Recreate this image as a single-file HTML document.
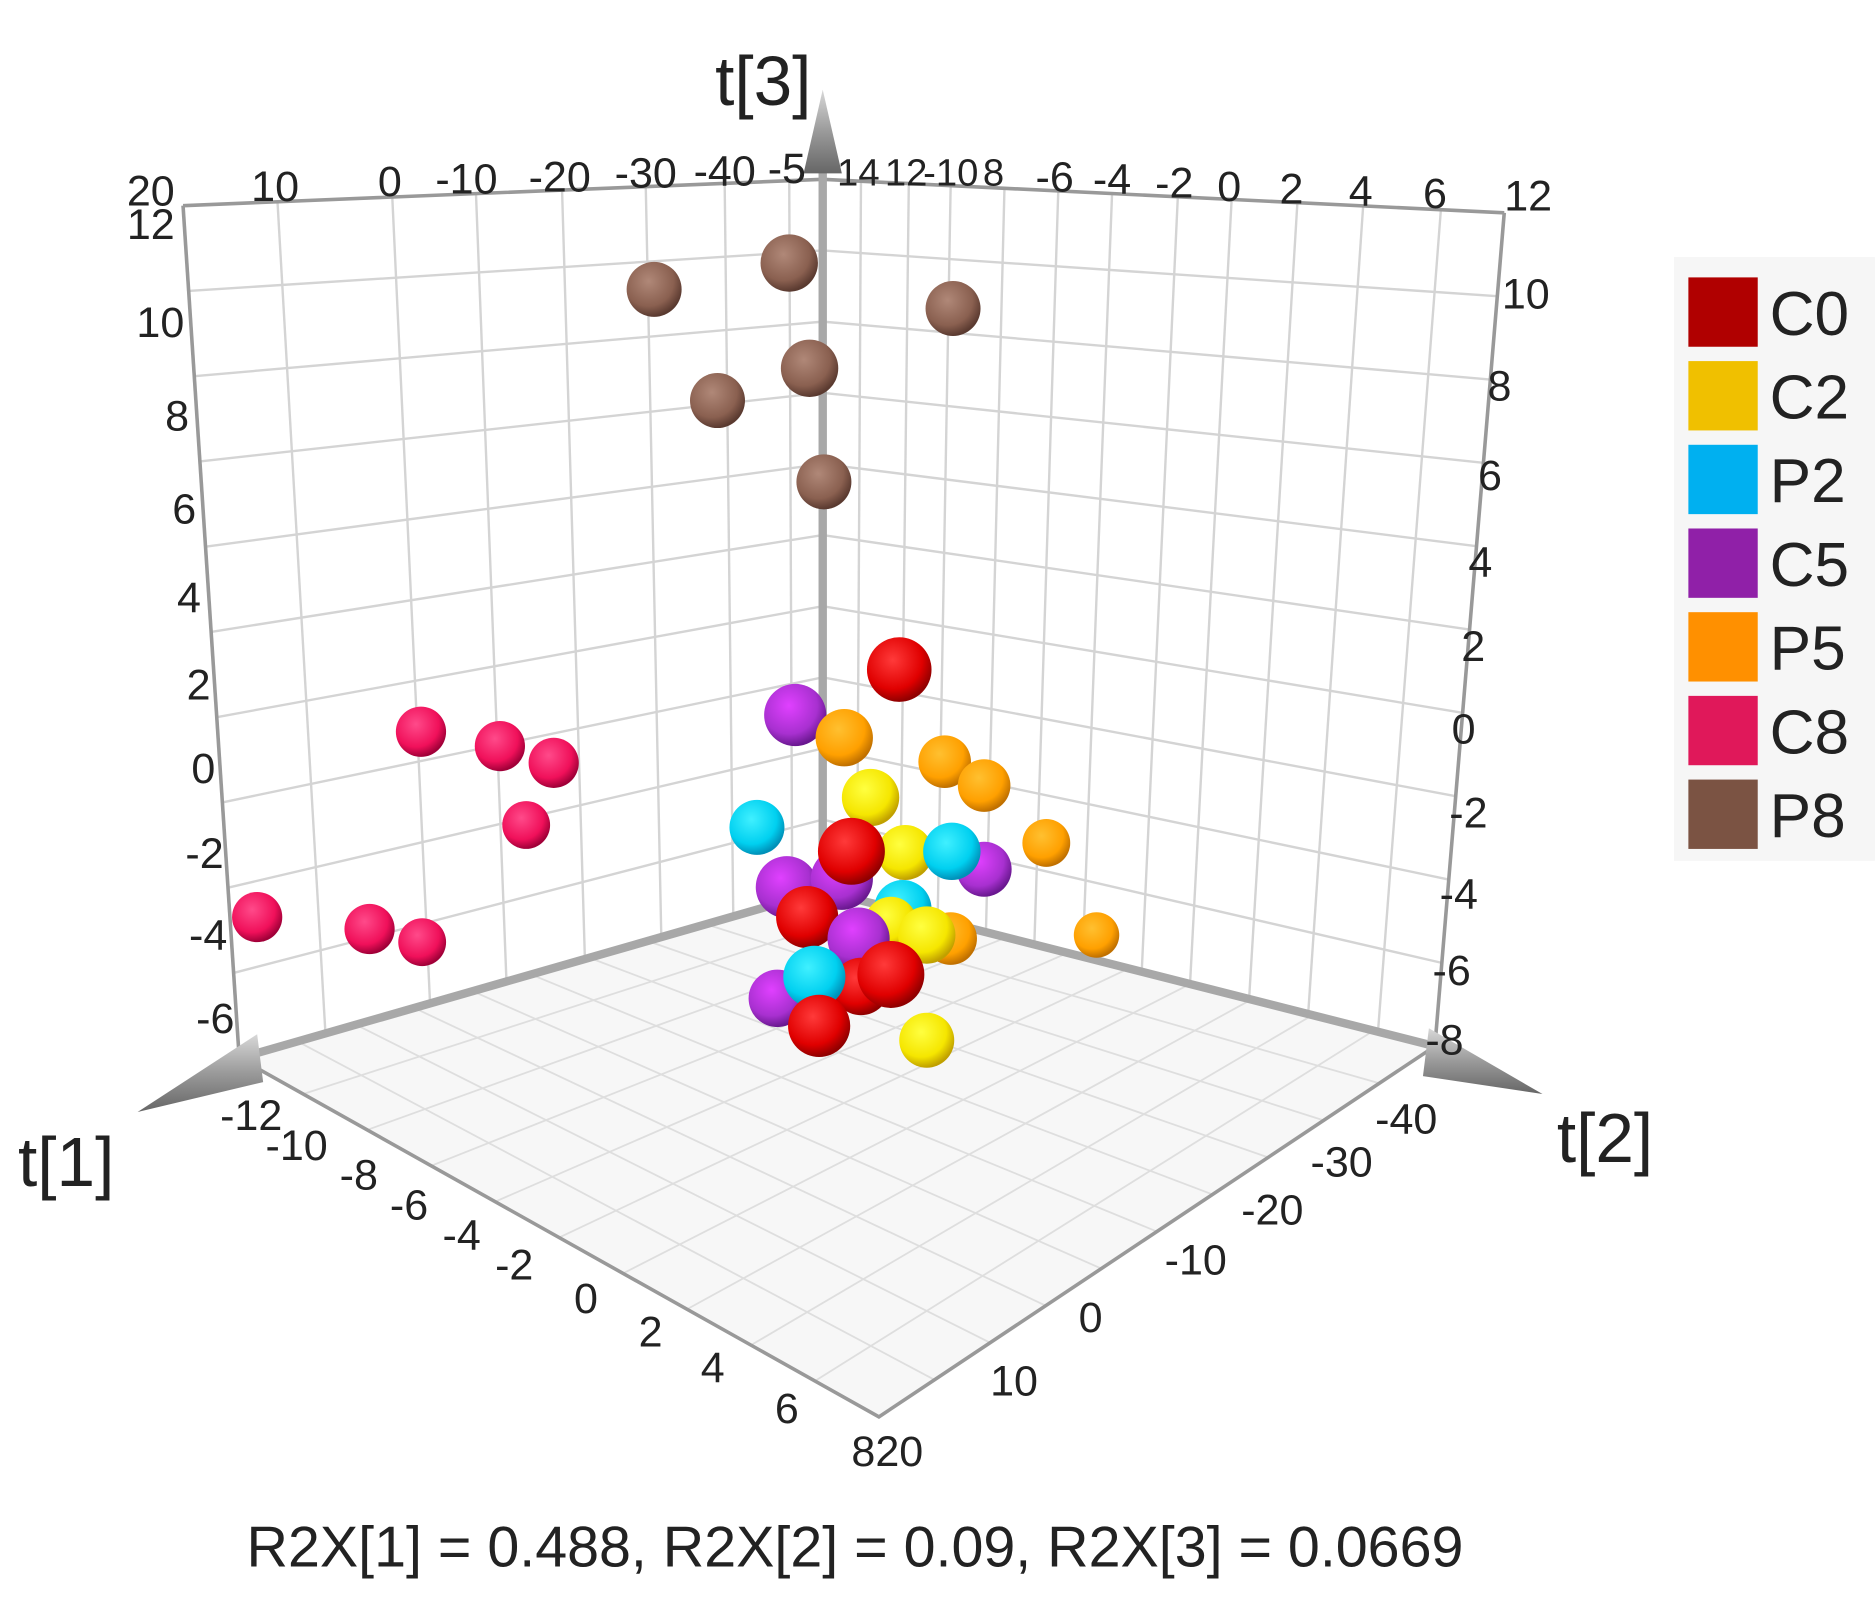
<!DOCTYPE html>
<html><head><meta charset="utf-8"><style>
html,body{margin:0;padding:0;background:#fff;}
svg{display:block;}
text{font-family:"Liberation Sans",sans-serif;fill:#222;}
</style></head><body>
<svg width="1875" height="1601" viewBox="0 0 1568 1339" xmlns="http://www.w3.org/2000/svg">
<defs>
<radialGradient id="gR" cx="0.4" cy="0.35" r="0.65"><stop offset="0" stop-color="#ff3a3a"/><stop offset="0.7" stop-color="#e00000"/><stop offset="1" stop-color="#900000"/></radialGradient>
<radialGradient id="gY" cx="0.4" cy="0.35" r="0.65"><stop offset="0" stop-color="#ffff40"/><stop offset="0.7" stop-color="#f5e600"/><stop offset="1" stop-color="#c0a000"/></radialGradient>
<radialGradient id="gC" cx="0.4" cy="0.35" r="0.65"><stop offset="0" stop-color="#40f0ff"/><stop offset="0.7" stop-color="#00d0f0"/><stop offset="1" stop-color="#0090b8"/></radialGradient>
<radialGradient id="gP" cx="0.4" cy="0.35" r="0.65"><stop offset="0" stop-color="#e040ff"/><stop offset="0.7" stop-color="#a830d0"/><stop offset="1" stop-color="#6a1890"/></radialGradient>
<radialGradient id="gO" cx="0.4" cy="0.35" r="0.65"><stop offset="0" stop-color="#ffc030"/><stop offset="0.7" stop-color="#ffa000"/><stop offset="1" stop-color="#c07000"/></radialGradient>
<radialGradient id="gK" cx="0.4" cy="0.35" r="0.65"><stop offset="0" stop-color="#ff4a8a"/><stop offset="0.7" stop-color="#f0105a"/><stop offset="1" stop-color="#a00038"/></radialGradient>
<radialGradient id="gB" cx="0.4" cy="0.35" r="0.65"><stop offset="0" stop-color="#b08878"/><stop offset="0.7" stop-color="#8a6050"/><stop offset="1" stop-color="#5a3a30"/></radialGradient>
<linearGradient id="cone" x1="0" y1="0" x2="0" y2="1"><stop offset="0" stop-color="#d8d8d8"/><stop offset="0.5" stop-color="#9a9a9a"/><stop offset="1" stop-color="#666"/></linearGradient>
</defs>
<polygon points="200,885 688,745 1200,875 735,1185" fill="#f7f7f7"/>
<g stroke="#dedede" stroke-width="1.5">
<line x1="248.8" y1="871" x2="781.5" y2="1154"/><line x1="297.6" y1="857" x2="828" y2="1123"/><line x1="346.4" y1="843" x2="874.5" y2="1092"/><line x1="395.2" y1="829" x2="921" y2="1061"/><line x1="444" y1="815" x2="967.5" y2="1030"/><line x1="492.8" y1="801" x2="1014" y2="999"/><line x1="541.6" y1="787" x2="1060.5" y2="968"/><line x1="590.4" y1="773" x2="1107" y2="937"/><line x1="639.2" y1="759" x2="1153.5" y2="906"/>
<line x1="739.2" y1="758" x2="253.5" y2="915"/><line x1="790.4" y1="771" x2="307" y2="945"/><line x1="841.6" y1="784" x2="360.5" y2="975"/><line x1="892.8" y1="797" x2="414" y2="1005"/><line x1="944" y1="810" x2="467.5" y2="1035"/><line x1="995.2" y1="823" x2="521" y2="1065"/><line x1="1046.4" y1="836" x2="574.5" y2="1095"/><line x1="1097.6" y1="849" x2="628" y2="1125"/><line x1="1148.8" y1="862" x2="681.5" y2="1155"/>
</g>
<g stroke="#d4d4d4" stroke-width="2" fill="none">
<polyline points="157.7,243.3 688,209.5 1252.2,247.7"/>
<polyline points="162.4,314.6 688,269 1246.4,317.4"/>
<polyline points="167.1,385.9 688,328.5 1240.6,387.1"/>
<polyline points="171.8,457.2 688,388 1234.8,456.8"/>
<polyline points="176.5,528.5 688,447.5 1229,526.5"/>
<polyline points="181.2,599.8 688,507 1223.2,596.2"/>
<polyline points="185.9,671.1 688,566.5 1217.4,665.9"/>
<polyline points="190.6,742.4 688,626 1211.6,735.6"/>
<polyline points="195.3,813.7 688,685.5 1205.8,805.3"/>
<line x1="232" y1="168.8" x2="272.1" y2="864.3"/><line x1="328" y1="164.8" x2="359.6" y2="839.2"/><line x1="398" y1="161.9" x2="423.5" y2="820.9"/><line x1="470" y1="159" x2="489.1" y2="802.1"/><line x1="540" y1="156.1" x2="553" y2="783.7"/><line x1="606" y1="153.4" x2="613.2" y2="766.5"/><line x1="660" y1="151.2" x2="662.5" y2="751.7"/>
<line x1="720" y1="151.6" x2="716.7" y2="752.3"/><line x1="760" y1="153.5" x2="752.7" y2="761.4"/><line x1="795" y1="155.3" x2="784.1" y2="769.4"/><line x1="840" y1="157.5" x2="824.5" y2="779.7"/><line x1="885" y1="159.7" x2="865" y2="789.9"/><line x1="930" y1="161.9" x2="905.4" y2="800.2"/><line x1="985" y1="164.6" x2="954.8" y2="812.7"/><line x1="1030" y1="166.8" x2="995.2" y2="823"/><line x1="1085" y1="169.5" x2="1044.6" y2="835.5"/><line x1="1140" y1="172.2" x2="1094" y2="848.1"/><line x1="1205" y1="175.4" x2="1152.4" y2="862.9"/>
</g>
<g stroke="#999" stroke-width="3" fill="none">
<polyline points="153,172 688,150 1258,178"/>
<line x1="153" y1="172" x2="200" y2="885"/><line x1="1258" y1="178" x2="1200" y2="875"/>
<polyline points="200,885 735,1185 1200,875"/>
</g>
<line x1="688" y1="745" x2="200" y2="885" stroke="#a8a8a8" stroke-width="7"/>
<line x1="688" y1="745" x2="1200" y2="875" stroke="#a8a8a8" stroke-width="7"/>
<line x1="688" y1="745" x2="688" y2="110" stroke="#a8a8a8" stroke-width="7"/>
<polygon points="115,930 215,865 220,905" fill="url(#cone)"/>
<polygon points="1290,915 1195,860 1190,900" fill="url(#cone)"/>
<polygon points="688,75 672,145 704,145" fill="url(#cone)"/>
<rect x="1400" y="215" width="168" height="505" fill="#f6f6f6"/>
<g font-size="52">
<rect x="1412" y="232" width="58" height="58" fill="#b00000"/><text x="1480" y="280">C0</text>
<rect x="1412" y="302" width="58" height="58" fill="#f0c000"/><text x="1480" y="350">C2</text>
<rect x="1412" y="372" width="58" height="58" fill="#00b0f0"/><text x="1480" y="420">P2</text>
<rect x="1412" y="442" width="58" height="58" fill="#9020a8"/><text x="1480" y="490">C5</text>
<rect x="1412" y="512" width="58" height="58" fill="#ff9000"/><text x="1480" y="560">P5</text>
<rect x="1412" y="582" width="58" height="58" fill="#e0185a"/><text x="1480" y="630">C8</text>
<rect x="1412" y="652" width="58" height="58" fill="#7b5343"/><text x="1480" y="700">P8</text>
</g>
<text x="598" y="88" font-size="58">t[3]</text>
<text x="15" y="992" font-size="58">t[1]</text>
<text x="1302" y="972" font-size="58">t[2]</text>
<text x="715" y="1310" font-size="48" text-anchor="middle">R2X[1] = 0.488, R2X[2] = 0.09, R2X[3] = 0.0669</text>
<g font-size="36" fill="#333">
<text x="106" y="172">20</text><text x="210" y="168">10</text><text x="316" y="164">0</text><text x="364" y="162">-10</text><text x="442" y="160">-20</text><text x="514" y="157">-30</text><text x="580" y="155">-40</text><text x="642" y="153">-5</text>
<text x="700" y="155" font-size="32">14</text><text x="740" y="155" font-size="32">12</text><text x="772" y="155" font-size="32">-10</text><text x="822" y="155" font-size="32">8</text>
<text x="866" y="160">-6</text><text x="914" y="162">-4</text><text x="966" y="165">-2</text><text x="1018" y="168">0</text><text x="1070" y="170">2</text><text x="1128" y="172">4</text><text x="1190" y="174">6</text><text x="1258" y="176">12</text>
<text x="106" y="200">12</text><text x="114" y="282">10</text><text x="138" y="360">8</text><text x="144" y="438">6</text><text x="148" y="512">4</text><text x="156" y="585">2</text><text x="160" y="655">0</text><text x="155" y="726">-2</text><text x="158" y="794">-4</text><text x="164" y="864">-6</text>
<text x="1256" y="258">10</text><text x="1244" y="335">8</text><text x="1236" y="410">6</text><text x="1228" y="482">4</text><text x="1222" y="553">2</text><text x="1214" y="622">0</text><text x="1212" y="692">-2</text><text x="1204" y="760">-4</text><text x="1198" y="824">-6</text><text x="1192" y="882">-8</text>
<text x="184" y="945">-12</text><text x="222" y="970">-10</text><text x="284" y="995">-8</text><text x="326" y="1020">-6</text><text x="370" y="1045">-4</text><text x="414" y="1070">-2</text><text x="480" y="1098">0</text><text x="534" y="1126">2</text><text x="586" y="1156">4</text><text x="648" y="1190">6</text><text x="712" y="1226">820</text>
<text x="1150" y="948">-40</text><text x="1096" y="984">-30</text><text x="1038" y="1024">-20</text><text x="974" y="1066">-10</text><text x="902" y="1114">0</text><text x="828" y="1167">10</text>
</g>
<g>
<circle cx="547" cy="242" r="23" fill="url(#gB)"/>
<circle cx="660" cy="220" r="24" fill="url(#gB)"/>
<circle cx="797" cy="258" r="23" fill="url(#gB)"/>
<circle cx="677" cy="308" r="24" fill="url(#gB)"/>
<circle cx="600" cy="335" r="23" fill="url(#gB)"/>
<circle cx="689" cy="403" r="23" fill="url(#gB)"/>
<circle cx="352" cy="612" r="21" fill="url(#gK)"/>
<circle cx="418" cy="624" r="21" fill="url(#gK)"/>
<circle cx="463" cy="638" r="21" fill="url(#gK)"/>
<circle cx="440" cy="690" r="20" fill="url(#gK)"/>
<circle cx="215" cy="767" r="21" fill="url(#gK)"/>
<circle cx="309" cy="777" r="21" fill="url(#gK)"/>
<circle cx="353" cy="788" r="20" fill="url(#gK)"/>
<circle cx="752" cy="560" r="27" fill="url(#gR)"/>
<circle cx="665" cy="598" r="26" fill="url(#gP)"/>
<circle cx="706" cy="617" r="24" fill="url(#gO)"/>
<circle cx="790" cy="637" r="22" fill="url(#gO)"/>
<circle cx="823" cy="657" r="22" fill="url(#gO)"/>
<circle cx="875" cy="705" r="20" fill="url(#gO)"/>
<circle cx="917" cy="782" r="19" fill="url(#gO)"/>
<circle cx="728" cy="667" r="24" fill="url(#gY)"/>
<circle cx="633" cy="692" r="23" fill="url(#gC)"/>
<circle cx="823" cy="727" r="23" fill="url(#gP)"/>
<circle cx="757" cy="713" r="23" fill="url(#gY)"/>
<circle cx="796" cy="712" r="24" fill="url(#gC)"/>
<circle cx="795" cy="785" r="22" fill="url(#gO)"/>
<circle cx="658" cy="742" r="26" fill="url(#gP)"/>
<circle cx="704" cy="735" r="26" fill="url(#gP)"/>
<circle cx="712" cy="712" r="28" fill="url(#gR)"/>
<circle cx="755" cy="760" r="24" fill="url(#gC)"/>
<circle cx="745" cy="772" r="22" fill="url(#gY)"/>
<circle cx="775" cy="782" r="24" fill="url(#gY)"/>
<circle cx="675" cy="767" r="26" fill="url(#gR)"/>
<circle cx="650" cy="835" r="24" fill="url(#gP)"/>
<circle cx="718" cy="785" r="26" fill="url(#gP)"/>
<circle cx="720" cy="825" r="24" fill="url(#gR)"/>
<circle cx="681" cy="817" r="26" fill="url(#gC)"/>
<circle cx="745" cy="815" r="28" fill="url(#gR)"/>
<circle cx="685" cy="858" r="26" fill="url(#gR)"/>
<circle cx="775" cy="870" r="23" fill="url(#gY)"/>
</g>
</svg>
</body></html>
